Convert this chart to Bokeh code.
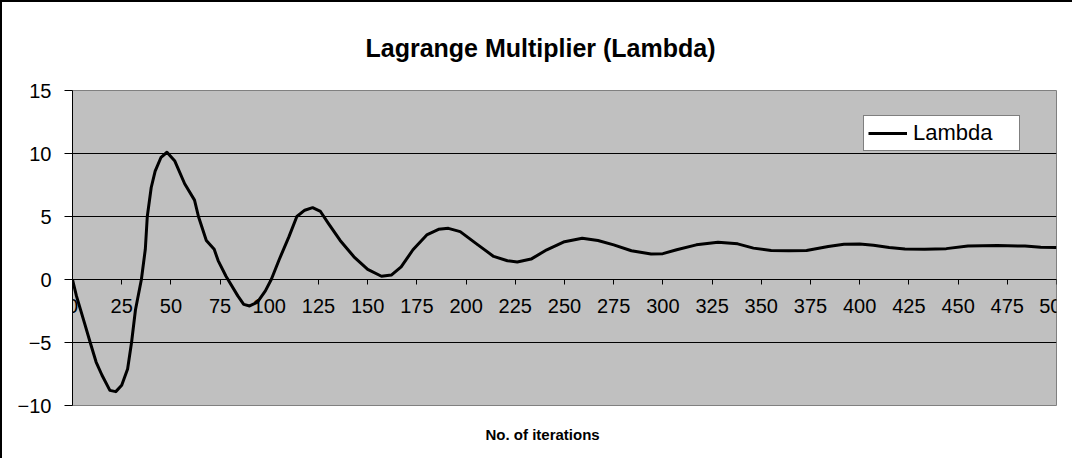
from bokeh.plotting import figure
from bokeh.models import FixedTicker, LinearAxis, Legend, LegendItem, Range1d, Title
from bokeh.embed import file_html
from bokeh.resources import INLINE

title_text = "Lagrange Multiplier (Lambda)"
x_label = "No. of iterations"
series_name = "Lambda"
x_ticks = list(range(0, 501, 25))
y_ticks = [-10, -5, 0, 5, 10, 15]

iterations = [0, 2, 6, 9, 12, 15, 19, 22, 25, 28, 30, 32, 35, 37, 38, 40, 42, 45, 48, 52,
              57, 62, 64, 68, 72, 74, 78, 84, 87, 90, 94, 98, 101, 105, 110, 114, 118, 122, 126, 130,
              136, 143, 150, 157, 162, 167, 173, 180, 186, 191, 197, 206, 214, 221, 226, 233, 241, 250, 259, 267,
              275, 284, 294, 300, 307, 317, 328, 338, 346, 355, 364, 373, 384, 392, 400, 407, 415, 423, 433, 444,
              455, 470, 484, 492, 500]
lam = [0, -1.3, -3.4, -5.0, -6.55, -7.6, -8.8, -8.9, -8.4, -7.1, -5.0, -2.4, 0.0, 2.4, 5.0, 7.3, 8.6, 9.7, 10.1, 9.4,
       7.6, 6.3, 5.0, 3.1, 2.4, 1.5, 0.26, -1.3, -1.97, -2.1, -1.8, -0.9, 0.0, 1.57, 3.4, 5.0, 5.5, 5.7, 5.4, 4.46,
       3.1, 1.8, 0.8, 0.26, 0.35, 1.0, 2.36, 3.54, 3.98, 4.06, 3.8, 2.75, 1.83, 1.49, 1.39, 1.62, 2.36, 3.0, 3.28, 3.1,
       2.75, 2.28, 2.02, 2.05, 2.36, 2.75, 2.96, 2.83, 2.49, 2.3, 2.28, 2.3, 2.62, 2.8, 2.82, 2.72, 2.54, 2.42, 2.4, 2.45,
       2.65, 2.7, 2.65, 2.56, 2.54]

FONT = "Liberation Sans"

p = figure(width=1072, height=458, output_backend="svg", toolbar_location=None,
           x_range=Range1d(0, 500), y_range=Range1d(-10, 15),
           x_axis_location=None,
           min_border_left=70, min_border_right=18, min_border_top=87, min_border_bottom=53)
p.styles = {"border-left": "2px solid black", "border-top": "2px solid black"}
p.background_fill_color = "#C0C0C0"
p.border_fill_color = "white"
p.outline_line_color = "#808080"
p.outline_line_width = 1
p.xgrid.grid_line_color = None

# title
p.title = Title(text=title_text, align="left", offset=293, text_font=FONT, text_font_size="25px",
                text_font_style="bold", text_color="black", standoff=58)

# y axis
ya = p.yaxis[0]
ya.ticker = FixedTicker(ticks=y_ticks)
ya.major_tick_out = 8
ya.major_tick_in = 0
ya.minor_tick_line_color = None
ya.axis_line_color = "black"
ya.major_tick_line_color = "black"
ya.major_label_text_font = FONT
ya.major_label_text_font_size = "20px"
ya.major_label_text_color = "black"
ya.major_label_standoff = 13

p.ygrid.ticker = FixedTicker(ticks=[-5, 0, 5, 10])
p.ygrid.grid_line_color = "black"
p.ygrid.grid_line_width = 1

# x axis at zero
xa = LinearAxis(fixed_location=0, ticker=FixedTicker(ticks=x_ticks))
xa.major_tick_out = 5
xa.major_tick_in = 0
xa.minor_tick_line_color = None
xa.axis_line_color = "black"
xa.major_tick_line_color = "black"
xa.major_label_text_font = FONT
xa.major_label_text_font_size = "20px"
xa.major_label_text_color = "black"
xa.major_label_standoff = 14
p.add_layout(xa, "below")

# x axis title below the frame
p.add_layout(Title(text=x_label, align="left", offset=413, text_font=FONT, text_font_size="15px",
                   text_font_style="bold", text_color="black", standoff=36), "below")

r = p.line(iterations, lam, line_color="black", line_width=3, line_join="round")

legend = Legend(items=[LegendItem(label=series_name, renderers=[r])], location=(791, 254))
legend.border_line_color = "black"
legend.border_line_width = 1
legend.background_fill_color = "white"
legend.background_fill_alpha = 1
legend.label_text_font = FONT
legend.label_text_font_size = "22px"
legend.label_text_color = "black"
legend.glyph_width = 39
legend.glyph_height = 20
legend.label_height = 20
legend.label_width = 102
legend.label_standoff = 6
legend.padding = 4
legend.margin = 0
legend.spacing = 0
p.add_layout(legend)

open("out.html", "w").write(file_html(p, INLINE))
